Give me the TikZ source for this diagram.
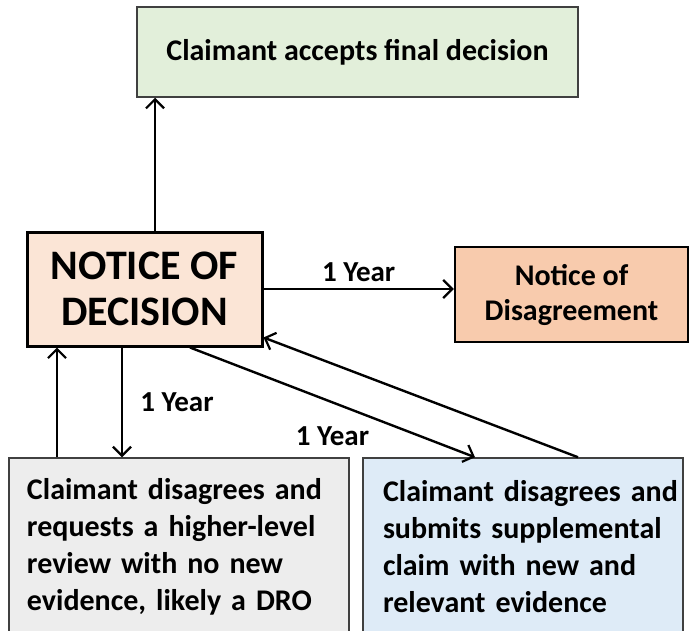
\documentclass[tikz,border=0pt]{standalone}
\usepackage{fontspec}
\setmainfont{Carlito}
\usetikzlibrary{arrows.meta}
\definecolor{topgreen}{HTML}{E2EFDA}
\definecolor{ndpeach}{HTML}{FBE5D6}
\definecolor{ndispeach}{HTML}{F8CBAD}
\definecolor{boxgray}{HTML}{EDEDED}
\definecolor{boxblue}{HTML}{DEEBF7}
\definecolor{edgegray}{HTML}{404040}
\tikzset{
  x=1pt, y=-1pt,
  box/.style={draw, rectangle, inner sep=0pt, font=\fontsize{30}{37}\selectfont\bfseries, align=center},
  arr/.style={line width=2.4pt, -{Straight Barb[length=9pt,width=18pt,line width=2.2pt]}},
  yearlbl/.style={font=\fontsize{29}{34}\selectfont\bfseries, inner sep=0pt},
}
\begin{document}
\begin{tikzpicture}
\useasboundingbox (0,0) rectangle (698,631);
\clip (0,0) rectangle (698,631);
\node[box, fill=topgreen, draw=edgegray, line width=1.5pt, minimum width=441pt, minimum height=90pt] (top) at (357.5,52) {Claimant accepts final decision};
\node[box, fill=ndpeach, line width=3pt, minimum width=235pt, minimum height=114pt, font=\fontsize{42}{46}\selectfont\bfseries] (nd) at (144.5,289) {NOTICE OF\\DECISION};
\node[box, fill=ndispeach, line width=2.5pt, minimum width=233pt, minimum height=95pt, font=\fontsize{30}{35}\selectfont\bfseries] (ndis) at (571.5,294.5) {Notice of\\Disagreement};
\node[box, fill=boxgray, draw=edgegray, line width=1.5pt, minimum width=340pt, minimum height=178pt, inner xsep=18pt, text width=304pt, align=left] (gray) at (179,547) {\mbox{Claimant disagrees and}\\\mbox{requests a higher-level}\\\mbox{review with no new}\\\mbox{evidence, likely a DRO}};
\node[box, fill=boxblue, draw=edgegray, line width=1.5pt, minimum width=320pt, minimum height=178pt, inner xsep=20pt, text width=280pt, align=left] (blue) at (523,547) {\mbox{Claimant disagrees and}\\\mbox{submits supplemental}\\\mbox{claim with new and}\\\mbox{relevant evidence}};
\draw[arr] ([xshift=10.5pt]nd.north) -- (155,0 |- top.south);
\draw[arr] (nd.east) -- (nd.east -| ndis.west) node[yearlbl, midway, yshift=17pt] {1 Year};
\draw[arr] (122,0 |- nd.south) -- (122,0 |- gray.north) node[yearlbl, midway, xshift=55pt] {1 Year};
\draw[arr] (57,0 |- gray.north) -- (57,0 |- nd.south);
\draw[arr] ([xshift=45.5pt]nd.south) -- ([xshift=-48pt]blue.north) node[yearlbl, midway, yshift=-34pt] {1 Year};
\draw[arr] ([xshift=55pt]blue.north) -- ([yshift=10pt]nd.south east);
\end{tikzpicture}
\end{document}
